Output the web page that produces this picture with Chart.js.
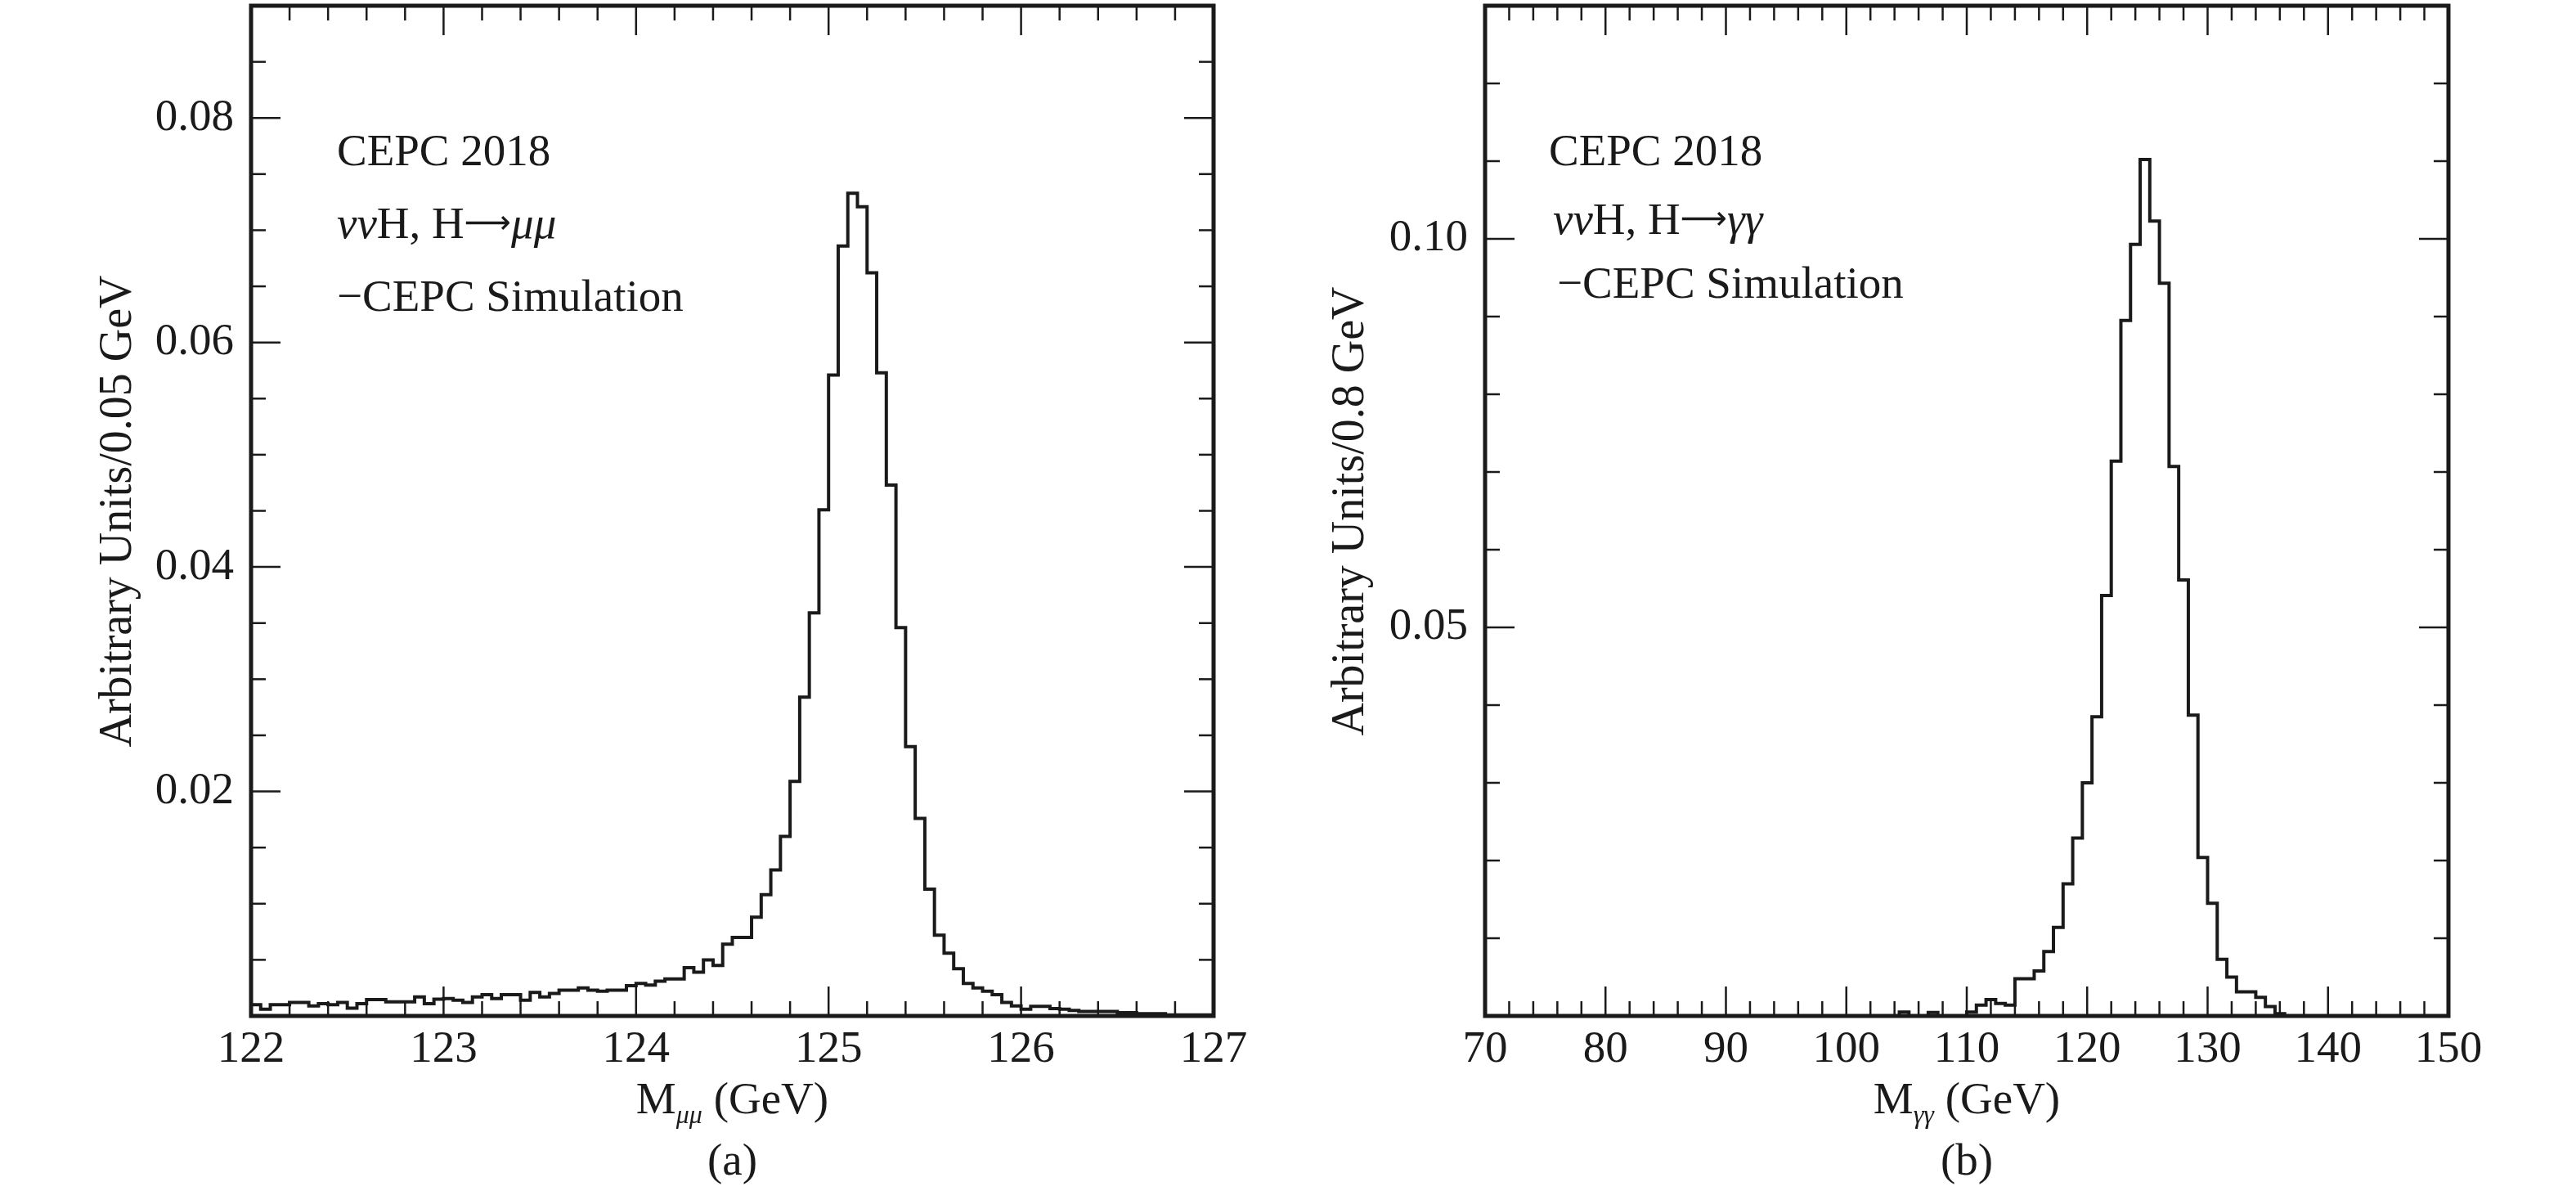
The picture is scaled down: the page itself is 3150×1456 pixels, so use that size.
<!DOCTYPE html>
<html>
<head>
<meta charset="utf-8">
<title>CEPC 2018 - Higgs mass distributions</title>
<script src="https://cdn.jsdelivr.net/npm/chart.js@4.4.1/dist/chart.umd.min.js"></script>
<style>
  html, body { margin: 0; padding: 0; background: #fff; }
  #wrap { position: relative; width: 3150px; height: 1456px; }
  .panel { position: absolute; top: 0; width: 1575px; height: 1456px; }
</style>
</head>
<body>
<div id="wrap">
  <div class="panel" style="left:0"><canvas id="chartMu" width="1575" height="1456"></canvas></div>
  <div class="panel" style="left:1575px"><canvas id="chartGam" width="1575" height="1456"></canvas></div>
</div>
<script>
// ---- panel (a): M_mumu, 100 bins of 0.05 GeV ----
const muRange = [122, 127];
const muBins = [
  0.0010, 0.0006, 0.0010, 0.0010, 0.0012, 0.0012, 0.0009, 0.0011, 0.0010, 0.0012,
  0.0007, 0.0011, 0.00145, 0.00145, 0.00125, 0.00125, 0.00125, 0.0017, 0.0011, 0.0015,
  0.00155, 0.0014, 0.0012, 0.0017, 0.0019, 0.00155, 0.0019, 0.0019, 0.0014, 0.0021,
  0.0017, 0.0020, 0.0023, 0.0023, 0.0025, 0.0023, 0.0022, 0.0023, 0.0023, 0.0027,
  0.0029, 0.00275, 0.0031, 0.0033, 0.0033, 0.0043, 0.0039, 0.0050, 0.0045, 0.0064,
  0.0070, 0.0070, 0.0088, 0.0108, 0.0130, 0.0160, 0.0209, 0.0284, 0.0359, 0.0451,
  0.0571, 0.0686, 0.0733, 0.0721, 0.0662, 0.0573, 0.0473, 0.0346, 0.0240, 0.0176,
  0.0113, 0.0072, 0.0056, 0.0042, 0.0029, 0.0025, 0.0022, 0.0019, 0.0012, 0.0009,
  0.0006, 0.00085, 0.00085, 0.00065, 0.0006, 0.0005, 0.0004, 0.0004, 0.0004, 0.0004,
  0.0003, 0.0003, 0.0002, 0.0002, 0.0002, 0.0001, 0.0001, 0.0001, 0.0001, 0.0001
];
const muXTicks = [122, 123, 124, 125, 126, 127];
const muYTicks = [0.02, 0.04, 0.06, 0.08];
const muYMax = 0.09;
const muXMinor = 0.2;
const muYMinor = 0.005;

// ---- panel (b): M_gammagamma, 100 bins of 0.8 GeV ----
const gamRange = [70, 150];
const gamBins = [
  0, 0, 0, 0, 0, 0, 0, 0, 0, 0,
  0, 0, 0, 0, 0, 0, 0, 0, 0, 0,
  0, 0, 0, 0, 0, 0, 0, 0, 0, 0,
  0, 0, 0, 0, 0, 0, 0, 0, 0, 0,
  0, 0, 0, 0.0005, 0, 0, 0.00045, 0, 0, 0,
  0.0005, 0.0014, 0.0021, 0.0016, 0.0014, 0.0048, 0.0048, 0.0058, 0.0083, 0.0114,
  0.0170, 0.0229, 0.0300, 0.0385, 0.0541, 0.0714, 0.0895, 0.0993, 0.1102, 0.1023,
  0.0943, 0.0707, 0.0561, 0.0387, 0.0204, 0.0145, 0.0073, 0.0050, 0.0031, 0.0031,
  0.0024, 0.0012, 0.0003, 0, 0, 0, 0, 0, 0, 0,
  0, 0, 0, 0, 0, 0, 0, 0, 0, 0
];
const gamXTicks = [70, 80, 90, 100, 110, 120, 130, 140, 150];
const gamYTicks = [0.05, 0.10];
const gamYMax = 0.13;
const gamXMinor = 2;
const gamYMinor = 0.01;

const FONT = '"Liberation Serif", "Times New Roman", serif';
const ARROW_FONT = '"DejaVu Sans", sans-serif';
const INK = '#1a1a1a';

// histogram outline points: one point per bin low edge, plus the last high edge
const histPoints = (range, bins) => {
    const w = (range[1] - range[0]) / bins.length;
    const pts = bins.map((v, i) => ({ x: range[0] + i * w, y: v }));
    pts.push({ x: range[1], y: bins[bins.length - 1] });
    return pts;
};

const runFont = r => `${r.italic ? 'italic ' : ''}${r.size || 55}px ${r.family || FONT}`;

const drawRuns = (ctx, runs, x, y) => {
    let cx = x;
    runs.forEach(r => {
        ctx.font = runFont(r);
        ctx.fillText(r.text, cx, y + (r.dy || 0));
        cx += ctx.measureText(r.text).width;
    });
    return cx - x;
};

const runsWidth = (ctx, runs) => {
    let w = 0;
    runs.forEach(r => {
        ctx.font = runFont(r);
        w += ctx.measureText(r.text).width;
    });
    return w;
};

const tickLine = (ctx, x1, y1, x2, y2) => {
    ctx.beginPath();
    ctx.moveTo(x1, y1);
    ctx.lineTo(x2, y2);
    ctx.stroke();
};

const drawTicks = (ctx, scale, area, step, majors, horizontal) => {
    const n = Math.round((scale.max - scale.min) / step);
    for (let k = 1; k < n; k++) {
        const v = scale.min + k * step;
        const isMajor = majors.some(m => Math.abs(m - v) < step / 10);
        const len = isMajor ? 36 : 18;
        const p = scale.getPixelForValue(v);
        if (horizontal) {
            tickLine(ctx, p, area.bottom, p, area.bottom - len);
            tickLine(ctx, p, area.top, p, area.top + len);
        } else {
            tickLine(ctx, area.left, p, area.left + len, p);
            tickLine(ctx, area.right, p, area.right - len, p);
        }
    }
};

// frame, inner ticks and all annotation text
const decorPlugin = {
    id: 'decor',
    afterDraw(chart, args, opts) {
        const ctx = chart.ctx;
        const area = chart.chartArea;
        const xs = chart.scales.x;
        const ys = chart.scales.y;
        ctx.save();
        ctx.strokeStyle = INK;
        ctx.lineWidth = 2.5;
        drawTicks(ctx, xs, area, opts.xMinor, opts.xMajor, true);
        drawTicks(ctx, ys, area, opts.yMinor, opts.yMajor, false);
        ctx.lineWidth = 5;
        ctx.strokeRect(area.left, area.top, area.right - area.left, area.bottom - area.top);

        ctx.fillStyle = INK;
        ctx.textAlign = 'left';
        ctx.textBaseline = 'alphabetic';
        opts.notes.forEach(n => drawRuns(ctx, n.runs, n.x, n.y));

        // x title with subscript, centred under the frame
        const cx = (area.left + area.right) / 2;
        const tw = runsWidth(ctx, opts.xTitle);
        drawRuns(ctx, opts.xTitle, cx - tw / 2, 1361);

        // panel tag
        ctx.font = `55px ${FONT}`;
        ctx.textAlign = 'center';
        ctx.textBaseline = 'middle';
        ctx.fillText(opts.tag, cx, 1422);

        // y title
        ctx.save();
        ctx.translate(opts.yTitleX, 625);
        ctx.rotate(-Math.PI / 2);
        ctx.font = `56px ${FONT}`;
        ctx.fillText(opts.yTitle, 0, 0);
        ctx.restore();
        ctx.restore();
    }
};

const makeChart = (canvasId, cfg) => {
    const plotBottom = 1242;
    new Chart(document.getElementById(canvasId), {
        type: 'line',
        data: {
            datasets: [{
                data: histPoints(cfg.range, cfg.bins),
                stepped: true,
                borderColor: INK,
                borderWidth: 4,
                borderJoinStyle: 'miter',
                pointRadius: 0,
                fill: false,
                clip: 6
            }]
        },
        options: {
            responsive: false,
            animation: false,
            devicePixelRatio: 1,
            layout: { padding: { left: 0, top: 7, right: 1575 - cfg.right, bottom: 0 } },
            plugins: {
                legend: { display: false },
                tooltip: { enabled: false },
                decor: cfg.decor
            },
            scales: {
                x: {
                    type: 'linear',
                    min: cfg.range[0],
                    max: cfg.range[1],
                    grid: { display: false, drawTicks: false },
                    border: { display: false },
                    afterBuildTicks: s => { s.ticks = cfg.xTicks.map(v => ({ value: v })); },
                    afterFit: s => {
                        s.height = 1456 - plotBottom;
                        s.paddingLeft = 0;
                        s.paddingRight = 0;
                    },
                    ticks: {
                        autoSkip: false,
                        maxRotation: 0,
                        padding: 9,
                        color: INK,
                        font: { family: FONT, size: 55 },
                        callback: v => String(v)
                    }
                },
                y: {
                    type: 'linear',
                    min: 0,
                    max: cfg.yMax,
                    grid: { display: false, drawTicks: false },
                    border: { display: false },
                    afterBuildTicks: s => { s.ticks = cfg.yTicks.map(v => ({ value: v })); },
                    afterFit: s => {
                        s.width = cfg.left;
                        s.paddingTop = 0;
                        s.paddingBottom = 0;
                    },
                    ticks: {
                        autoSkip: false,
                        padding: 21,
                        color: INK,
                        font: { family: FONT, size: 55 },
                        callback: v => v.toFixed(2)
                    }
                }
            }
        },
        plugins: [decorPlugin]
    });
};

// long thin arrow, as in the original typesetting
const arrowRun = { text: '⟶', family: ARROW_FONT, size: 40, dy: -6 };

makeChart('chartMu', {
    range: muRange,
    bins: muBins,
    xTicks: muXTicks,
    yTicks: muYTicks,
    yMax: muYMax,
    left: 307,
    right: 1484,
    decor: {
        xMinor: muXMinor, xMajor: muXTicks,
        yMinor: muYMinor, yMajor: muYTicks,
        tag: '(a)',
        yTitle: 'Arbitrary Units/0.05 GeV',
        yTitleX: 145,
        xTitle: [
            { text: 'M' },
            { text: 'μμ', italic: true, size: 32, dy: 12 },
            { text: ' (GeV)' }
        ],
        notes: [
            { x: 412, y: 202, runs: [{ text: 'CEPC 2018' }] },
            { x: 412, y: 291, runs: [{ text: 'vv', italic: true }, { text: 'H, H' }, arrowRun, { text: 'μμ', italic: true }] },
            { x: 412, y: 380, runs: [{ text: '−CEPC Simulation' }] }
        ]
    }
});

makeChart('chartGam', {
    range: gamRange,
    bins: gamBins,
    xTicks: gamXTicks,
    yTicks: gamYTicks,
    yMax: gamYMax,
    left: 241,
    right: 1419,
    decor: {
        xMinor: gamXMinor, xMajor: gamXTicks,
        yMinor: gamYMinor, yMajor: gamYTicks,
        tag: '(b)',
        yTitle: 'Arbitrary Units/0.8 GeV',
        yTitleX: 77,
        xTitle: [
            { text: 'M' },
            { text: 'γγ', italic: true, size: 32, dy: 12 },
            { text: ' (GeV)' }
        ],
        notes: [
            { x: 319, y: 202, runs: [{ text: 'CEPC 2018' }] },
            { x: 324, y: 286, runs: [{ text: 'vv', italic: true }, { text: 'H, H' }, arrowRun, { text: 'γγ', italic: true }] },
            { x: 329, y: 364, runs: [{ text: '−CEPC Simulation' }] }
        ]
    }
});
</script>
</body>
</html>
